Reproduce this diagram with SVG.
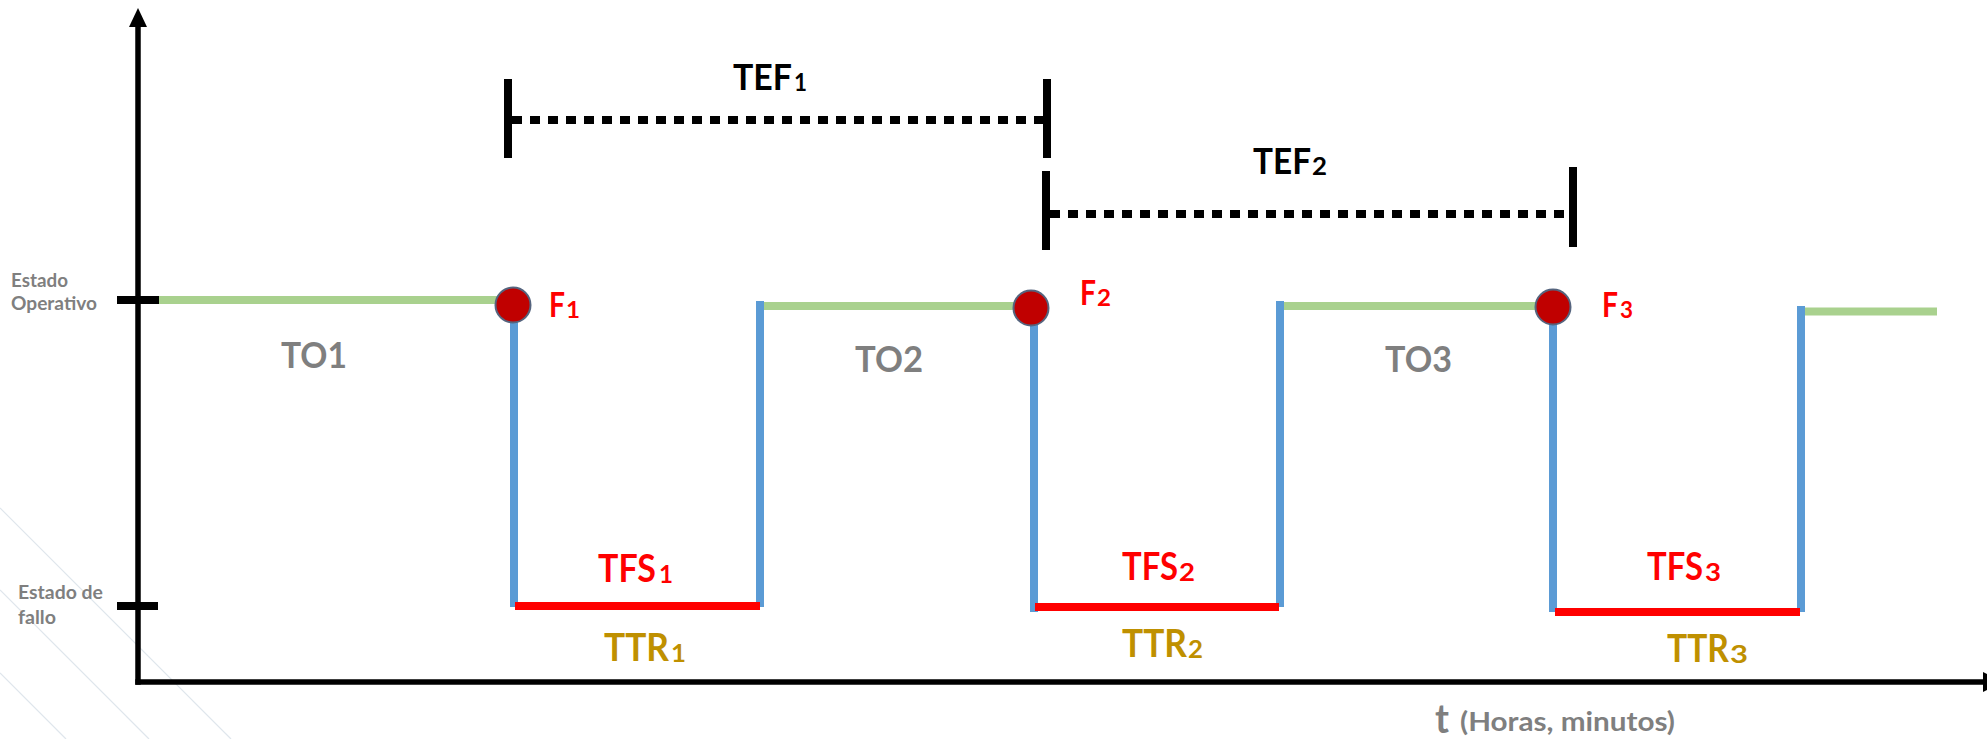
<svg xmlns="http://www.w3.org/2000/svg" width="1987" height="739" viewBox="0 0 1987 739">
<style>
text{font-family:"Lato","Liberation Sans",Arial,sans-serif;font-weight:bold}
.axis{stroke:#000;stroke-width:5.5;fill:none}
.tick{stroke:#000;stroke-width:8}
.up{stroke:#a9d18e;stroke-width:8}
.tr{stroke:#5b9bd5;stroke-width:8}
.down{stroke:#ff0000;stroke-width:8}
.bar{stroke:#000;stroke-width:8}
.dot{stroke:#000;stroke-width:8;stroke-dasharray:10 8}
.fail{fill:#c00000;stroke:#55647e;stroke-width:2}
.lbl{fill:#7f7f7f}
.red{fill:#ff0000}
.gold{fill:#bf9000}
.blk{fill:#000}
.bg{stroke:#dfe6ec;stroke-width:1.2}
</style>
<rect width="1987" height="739" fill="#fff"/>
<g id="background">
<line class="bg" x1="0" y1="508" x2="231" y2="739"/>
<line class="bg" x1="0" y1="590" x2="149" y2="739"/>
<line class="bg" x1="0" y1="673" x2="66" y2="739"/>
</g>
<g id="axes">
<line class="axis" x1="138" y1="22" x2="138" y2="684.7"/>
<polygon points="138,8 129,27 147,27" fill="#000"/>
<line class="axis" x1="135.3" y1="682" x2="1984" y2="682"/>
<polygon points="1983,672 1983,692 2003,682" fill="#000"/>
<line class="tick" x1="117" y1="300" x2="159" y2="300"/>
<line class="tick" x1="117" y1="606" x2="158" y2="606"/>
</g>
<g id="connectors">
<line class="up" x1="159" y1="300" x2="500" y2="300"/>
<line class="up" x1="760" y1="306" x2="1020" y2="306"/>
<line class="up" x1="1281" y1="306" x2="1540" y2="306"/>
<line class="up" x1="1801" y1="311.5" x2="1937" y2="311.5"/>
<line class="tr" x1="514" y1="305" x2="514" y2="607"/>
<line class="tr" x1="760" y1="301" x2="760" y2="607"/>
<line class="tr" x1="1034" y1="307" x2="1034" y2="612"/>
<line class="tr" x1="1280" y1="301" x2="1280" y2="607"/>
<line class="tr" x1="1553" y1="307" x2="1553" y2="612"/>
<line class="tr" x1="1801" y1="306" x2="1801" y2="612"/>
<line class="down" x1="515" y1="606" x2="760" y2="606"/>
<line class="down" x1="1035" y1="607" x2="1279" y2="607"/>
<line class="down" x1="1555" y1="612" x2="1800" y2="612"/>
</g>
<g id="tef1">
<line class="bar" x1="508" y1="79" x2="508" y2="158"/>
<line class="bar" x1="1047" y1="79" x2="1047" y2="158"/>
<line class="dot" x1="512" y1="120" x2="1043" y2="120"/>
<text class="blk" x="733" y="90" font-size="36" textLength="59" lengthAdjust="spacingAndGlyphs">TEF</text>
<text class="blk" x="794" y="90.5" font-size="25" textLength="13" lengthAdjust="spacingAndGlyphs">1</text>
</g>
<g id="tef2">
<line class="bar" x1="1046" y1="171" x2="1046" y2="250"/>
<line class="bar" x1="1573" y1="167" x2="1573" y2="247"/>
<line class="dot" x1="1050" y1="214" x2="1569" y2="214"/>
<text class="blk" x="1253" y="174" font-size="36" textLength="58" lengthAdjust="spacingAndGlyphs">TEF</text>
<text class="blk" x="1312" y="174.5" font-size="25" textLength="15" lengthAdjust="spacingAndGlyphs">2</text>
</g>
<g id="f1">
<circle class="fail" cx="513" cy="305" r="17.5"/>
<text class="red" x="549" y="317" font-size="35" textLength="16" lengthAdjust="spacingAndGlyphs">F</text>
<text class="red" x="566" y="317.5" font-size="23" textLength="14" lengthAdjust="spacingAndGlyphs">1</text>
</g>
<g id="f2">
<circle class="fail" cx="1031" cy="308" r="17.5"/>
<text class="red" x="1080" y="305" font-size="35" textLength="16" lengthAdjust="spacingAndGlyphs">F</text>
<text class="red" x="1097" y="305.5" font-size="23" textLength="14" lengthAdjust="spacingAndGlyphs">2</text>
</g>
<g id="f3">
<circle class="fail" cx="1553" cy="307" r="17.5"/>
<text class="red" x="1602" y="317" font-size="35" textLength="16" lengthAdjust="spacingAndGlyphs">F</text>
<text class="red" x="1620" y="317.5" font-size="23" textLength="13" lengthAdjust="spacingAndGlyphs">3</text>
</g>
<g id="to-labels">
<text class="lbl" x="281" y="368" font-size="36" textLength="66" lengthAdjust="spacingAndGlyphs">TO1</text>
<text class="lbl" x="855" y="371.5" font-size="36" textLength="68" lengthAdjust="spacingAndGlyphs">TO2</text>
<text class="lbl" x="1385" y="372" font-size="36" textLength="67" lengthAdjust="spacingAndGlyphs">TO3</text>
</g>
<g id="tfs-labels">
<text class="red" x="598" y="582" font-size="39" textLength="58" lengthAdjust="spacingAndGlyphs">TFS</text>
<text class="red" x="659" y="582.5" font-size="25" textLength="14" lengthAdjust="spacingAndGlyphs">1</text>
<text class="red" x="1122" y="580" font-size="39" textLength="56" lengthAdjust="spacingAndGlyphs">TFS</text>
<text class="red" x="1179" y="580.5" font-size="25" textLength="16" lengthAdjust="spacingAndGlyphs">2</text>
<text class="red" x="1647" y="580" font-size="39" textLength="56" lengthAdjust="spacingAndGlyphs">TFS</text>
<text class="red" x="1705" y="580.5" font-size="25" textLength="16" lengthAdjust="spacingAndGlyphs">3</text>
</g>
<g id="ttr-labels">
<text class="gold" x="604" y="661" font-size="39" textLength="65" lengthAdjust="spacingAndGlyphs">TTR</text>
<text class="gold" x="671" y="661.5" font-size="25" textLength="15" lengthAdjust="spacingAndGlyphs">1</text>
<text class="gold" x="1122" y="657" font-size="39" textLength="65" lengthAdjust="spacingAndGlyphs">TTR</text>
<text class="gold" x="1188" y="657.5" font-size="25" textLength="15" lengthAdjust="spacingAndGlyphs">2</text>
<text class="gold" x="1667" y="662" font-size="39" textLength="62" lengthAdjust="spacingAndGlyphs">TTR</text>
<text class="gold" x="1730" y="662.5" font-size="25" textLength="18" lengthAdjust="spacingAndGlyphs">3</text>
</g>
<g id="state-labels">
<text class="lbl" x="11" y="287" font-size="18" textLength="57" lengthAdjust="spacingAndGlyphs">Estado</text>
<text class="lbl" x="11" y="310" font-size="18" textLength="86" lengthAdjust="spacingAndGlyphs">Operativo</text>
<text class="lbl" x="18" y="599" font-size="18" textLength="85" lengthAdjust="spacingAndGlyphs">Estado de</text>
<text class="lbl" x="18" y="624" font-size="18" textLength="38" lengthAdjust="spacingAndGlyphs">fallo</text>
</g>
<g id="time-label">
<text class="lbl" x="1435" y="733" font-size="40" textLength="14" lengthAdjust="spacingAndGlyphs">t</text>
<text class="lbl" x="1460" y="731" font-size="26" textLength="215" lengthAdjust="spacingAndGlyphs">(Horas, minutos)</text>
</g>
</svg>
